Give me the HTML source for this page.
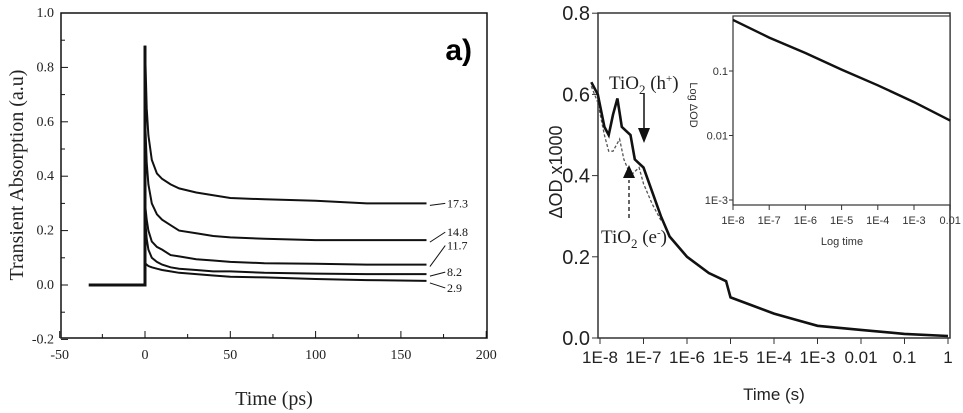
<!DOCTYPE html>
<html><head><meta charset="utf-8"><style>
html,body{margin:0;padding:0;background:#fff;}
svg{display:block;}
</style></head><body>
<svg id="fig" width="963" height="413" viewBox="0 0 963 413" xmlns="http://www.w3.org/2000/svg">
<g id="pa"></g>
<g id="pb"></g>
<g id="pi"></g>
</svg>
<script>
// ---------- Panel a data ----------
const aTimes = [0, 1, 2, 4, 7, 10, 15, 20, 30, 40, 50, 70, 100, 130, 165];
const aLabels = ["17.3", "14.8", "11.7", "8.2", "2.9"];
const aS173 = [0.88,0.65,0.55,0.46,0.41,0.39,0.37,0.355,0.34,0.33,0.32,0.315,0.31,0.30,0.30];
const aS148 = [0.62,0.45,0.37,0.30,0.26,0.24,0.22,0.20,0.19,0.18,0.175,0.17,0.165,0.165,0.165];
const aS117 = [0.30,0.24,0.20,0.16,0.14,0.13,0.11,0.105,0.095,0.09,0.085,0.08,0.078,0.075,0.075];
const aS82  = [0.25,0.17,0.13,0.10,0.085,0.075,0.065,0.06,0.055,0.05,0.05,0.045,0.042,0.04,0.04];
const aS29  = [0.08,0.075,0.07,0.065,0.06,0.055,0.05,0.045,0.04,0.035,0.03,0.028,0.022,0.018,0.015];
const aBaseT = [-33, -20, -10, 0];
const aBaseV = [0, 0, 0, 0];
const aXTicks = [-50, 0, 50, 100, 150, 200];
const aYTicks = [-0.2, 0.0, 0.2, 0.4, 0.6, 0.8, 1.0];

// ---------- Panel b data ----------
const bLogT = [-8.2,-8.05,-7.9,-7.8,-7.7,-7.6,-7.5,-7.4,-7.3,-7.2,-7.1,-7.0,-6.8,-6.6,-6.4,-6.0,-5.5,-5.1,-5.0,-4.5,-4.0,-3.5,-3.0,-2.0,-1.0,0.0];
const bSolid = [0.63,0.60,0.52,0.50,0.55,0.59,0.52,0.51,0.50,0.44,0.43,0.42,0.36,0.30,0.25,0.20,0.16,0.14,0.10,0.08,0.06,0.045,0.03,0.02,0.01,0.005];
const bDashT = [-8.2,-8.05,-7.9,-7.8,-7.7,-7.55,-7.45,-7.3,-7.1,-7.0,-6.8,-6.6];
const bDash  = [0.62,0.58,0.50,0.46,0.46,0.49,0.44,0.40,0.42,0.38,0.33,0.29];
const bXTicks = ["1E-8","1E-7","1E-6","1E-5","1E-4","1E-3","0.01","0.1","1"];
const bYTicks = [0.0, 0.2, 0.4, 0.6, 0.8];

// ---------- Inset data ----------
const iLogT = [-8, -7, -6, -5, -4, -3, -2];
const iVal  = [0.62, 0.33, 0.19, 0.105, 0.06, 0.033, 0.017];
const iXTicks = ["1E-8","1E-7","1E-6","1E-5","1E-4","1E-3","0.01"];
const iYTicks = [0.1, 0.01, 0.001];
const iYLabels = ["0.1","0.01","1E-3"];

const NS = "http://www.w3.org/2000/svg";
function mk(parent, tag, attrs, text){
  const e = document.createElementNS(NS, tag);
  for (const k in attrs) e.setAttribute(k, attrs[k]);
  if (text !== undefined) e.textContent = text;
  parent.appendChild(e);
  return e;
}
function pathD(xs, ys, fx, fy){
  return xs.map((x,i)=>(i?"L":"M")+fx(x).toFixed(1)+","+fy(ys[i]).toFixed(1)).join(" ");
}

// ===== Panel a =====
const pa = document.getElementById('pa');
const ax = v => 145 + (v) * (85.3/50);
const ay = v => 285 - v * 272;
const SERIF = '"Liberation Serif", serif';
let fr = mk(pa,'rect',{x:61,y:13,width:426,height:325,fill:'none',stroke:'#111','stroke-width':1.5});


for (let m=-25; m<=175; m+=50){
  let mt = mk(pa,'line',{x1:ax(m),y1:338,x2:ax(m),y2:334,stroke:'#111'});
  
  
}
for (let m=-0.1; m<1.0; m+=0.2){
  let mt = mk(pa,'line',{x1:61,y1:ay(m),x2:65,y2:ay(m),stroke:'#111'});
  
  
}
aXTicks.forEach(t=>{
  const x = ax(t);
  let tk = mk(pa,'line',{x1:x,y1:338,x2:x,y2:331,stroke:'#111'});
  
  
  let lb = mk(pa,'text',{x:x,y:359,'text-anchor':'middle','font-family':SERIF,'font-size':14,fill:'#222'}, String(t));
  
  
});
aYTicks.forEach(t=>{
  const y = ay(t);
  let tk = mk(pa,'line',{x1:61,y1:y,x2:68,y2:y,stroke:'#111'});
  
  
  let lb = mk(pa,'text',{x:54,y:y+4,'text-anchor':'end','font-family':SERIF,'font-size':14,fill:'#222'}, t.toFixed(1));
  
  
});
let xt = mk(pa,'text',{x:274,y:405,'text-anchor':'middle','font-family':SERIF,'font-size':20,fill:'#222'},'Time (ps)');


let yt = mk(pa,'text',{x:0,y:0,'text-anchor':'middle','font-family':SERIF,'font-size':20,fill:'#222',transform:'translate(23,175) rotate(-90)'},'Transient Absorption (a.u)');


let la = mk(pa,'text',{x:472,y:60,'text-anchor':'end','font-family':'"Liberation Sans", sans-serif','font-size':30,'font-weight':'bold',fill:'#000'},'a)');


let base = mk(pa,'path',{d:pathD(aBaseT,aBaseV,ax,ay)+" L"+ax(0).toFixed(1)+","+ay(aS173[0]).toFixed(1),fill:'none',stroke:'#111','stroke-width':3});


const aSeries = [aS173, aS148, aS117, aS82, aS29];
aSeries.forEach((s,i)=>{
  let p = mk(pa,'path',{d:pathD(aTimes,s,ax,ay),fill:'none',stroke:'#111','stroke-width':2});
  
  
  const yEnd = ay(s[s.length-1]);
  const ly = [ay(aS173[14])+3, ay(aS148[14])-5, ay(aS117[14])-16, ay(aS82[14])+1, ay(aS29[14])+10][i];
  let ar = mk(pa,'line',{x1:ax(167),y1:yEnd+2,x2:ax(176),y2:ly-3,stroke:'#111','stroke-width':1});
  
  
  let t = mk(pa,'text',{x:ax(177),y:ly+1,'font-family':SERIF,'font-size':12,fill:'#111'},aLabels[i]);
  
  
});

// ===== Panel b =====
const pb = document.getElementById('pb');
const SANS = '"Liberation Sans", sans-serif';
const bx = lt => 600 + (lt + 8) * 43.5;
const by = v => 338 - v * 406;
let frb = mk(pb,'rect',{x:598,y:13,width:352,height:325,fill:'none',stroke:'#333','stroke-width':1.5});


bXTicks.forEach((t,i)=>{
  const x = bx(-8+i);
  let tk = mk(pb,'line',{x1:x,y1:338,x2:x,y2:344,stroke:'#333'});
  
  
  let lb = mk(pb,'text',{x:x,y:363,'text-anchor':'middle','font-family':SANS,'font-size':17,fill:'#222'},t);
  
  
});
bYTicks.forEach(t=>{
  const y = by(t);
  let tk = mk(pb,'line',{x1:592,y1:y,x2:598,y2:y,stroke:'#333'});
  
  
  let lb = mk(pb,'text',{x:590,y:y+7,'text-anchor':'end','font-family':SANS,'font-size':20,fill:'#222'},t.toFixed(1));
  
  
});
let xtb = mk(pb,'text',{x:774,y:400,'text-anchor':'middle','font-family':SANS,'font-size':17,fill:'#222'},'Time (s)');


let ytb = mk(pb,'text',{x:0,y:0,'text-anchor':'middle','font-family':SANS,'font-size':18,fill:'#222',transform:'translate(562,172) rotate(-90)'},'ΔOD x1000');


let ds = mk(pb,'path',{d:pathD(bDashT,bDash,bx,by),fill:'none',stroke:'#555','stroke-width':1.3,'stroke-dasharray':'3,2'});


let ss = mk(pb,'path',{d:pathD(bLogT,bSolid,bx,by),fill:'none',stroke:'#111','stroke-width':2.6});


let a1 = mk(pb,'text',{x:609,y:89,'font-family':SERIF,'font-size':19,fill:'#222'});
a1.innerHTML = 'TiO<tspan font-size="13" dy="5">2</tspan><tspan dy="-5"> (h</tspan><tspan font-size="11" dy="-7">+</tspan><tspan dy="7">)</tspan>';


let ar1 = mk(pb,'line',{x1:644,y1:94,x2:644,y2:130,stroke:'#111','stroke-width':1.5});


mk(pb,'polygon',{points:'638,128 650,128 644,143',fill:'#111'});
let a2 = mk(pb,'text',{x:601,y:243,'font-family':SERIF,'font-size':19,fill:'#222'});
a2.innerHTML = 'TiO<tspan font-size="13" dy="5">2</tspan><tspan dy="-5"> (e</tspan><tspan font-size="11" dy="-7">-</tspan><tspan dy="7">)</tspan>';


let ar2 = mk(pb,'line',{x1:629,y1:218,x2:629,y2:180,stroke:'#333','stroke-width':1.5,'stroke-dasharray':'4,3'});


mk(pb,'polygon',{points:'623,178 635,178 629,165',fill:'#111'});
let lbB = mk(pb,'text',{x:931,y:60,'text-anchor':'end','font-family':SANS,'font-size':30,'font-weight':'bold',fill:'#000'},'b)');



// ===== Inset =====
const pi = document.getElementById('pi');
const ix = lt => 733 + (lt + 8) * 36.2;
const iy = v => 71 - (Math.log10(v) + 1) * 64.5;
let fri = mk(pi,'rect',{x:733,y:16,width:217,height:189,fill:'#fff',stroke:'#333','stroke-width':1.2});


mk(pi,'line',{x1:733,y1:13,x2:950,y2:13,stroke:'#333','stroke-width':1});
iXTicks.forEach((t,i)=>{
  const x = ix(-8+i);
  let tk = mk(pi,'line',{x1:x,y1:205,x2:x,y2:210,stroke:'#333'});
  
  
  let lb = mk(pi,'text',{x:x,y:224,'text-anchor':'middle','font-family':SANS,'font-size':11,fill:'#333'},t);
  
  
});
iYTicks.forEach((t,i)=>{
  const y = iy(t);
  let tk = mk(pi,'line',{x1:729,y1:y,x2:733,y2:y,stroke:'#333'});
  
  
  let lb = mk(pi,'text',{x:728,y:y+4,'text-anchor':'end','font-family':SANS,'font-size':11,fill:'#333'},iYLabels[i]);
  
  
});
let ixt = mk(pi,'text',{x:842,y:245,'text-anchor':'middle','font-family':SANS,'font-size':11,fill:'#333'},'Log time');


let iyt = mk(pi,'text',{x:0,y:0,'text-anchor':'middle','font-family':SANS,'font-size':11,fill:'#333',transform:'translate(690,105) rotate(90)'},'Log ΔOD');


let il = mk(pi,'path',{d:pathD(iLogT,iVal,ix,iy),fill:'none',stroke:'#111','stroke-width':2.4});


</script>
</body></html>
